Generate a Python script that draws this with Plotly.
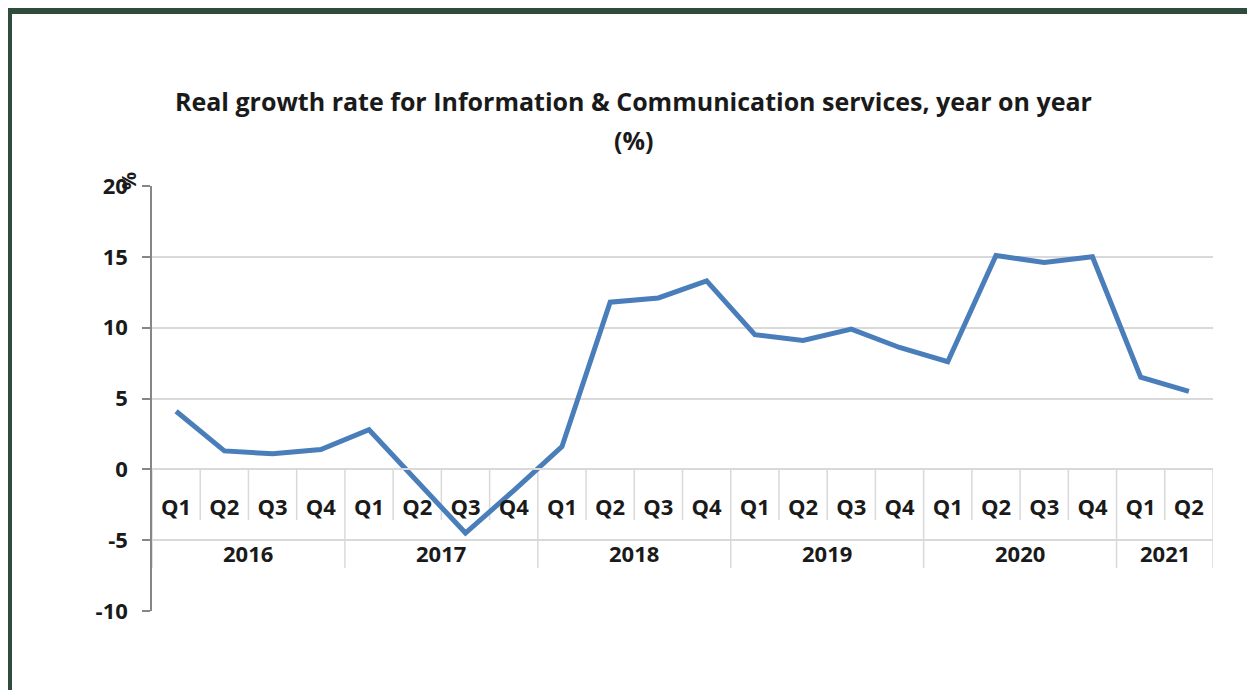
import plotly.graph_objects as go

years = ['2016'] * 4 + ['2017'] * 4 + ['2018'] * 4 + ['2019'] * 4 + ['2020'] * 4 + ['2021'] * 2
quarters = ['Q1', 'Q2', 'Q3', 'Q4'] * 5 + ['Q1', 'Q2']
growth = [4.1, 1.3, 1.1, 1.4,
          2.8, -0.9, -4.5, -1.5,
          1.6, 11.8, 12.1, 13.3,
          9.5, 9.1, 9.9, 8.6,
          7.6, 15.1, 14.6, 15.0,
          6.5, 5.5]
y_ticks = [-10, -5, 0, 5, 10, 15, 20]
y_ticktext = ['-10', '-5', '0', '5', '10', '15', '20']

cats = [y + ' ' + q for y, q in zip(years, quarters)]

# the page body has an 8px margin, so everything is laid out 8px up/left
OFF = 8
W, H = 1255 - OFF, 690 - OFF
L, R, T, B = 152 - OFF, 1255 - 1213, 186 - OFF, 690 - 611
PW, PH = W - L - R, H - T - B


def px(x, y):
    # screen pixel -> paper coords
    return (x - OFF - L) / PW, (H - B - (y - OFF)) / PH


GRID = '#D9D9D9'
TXT = '#1a1a1a'
font = dict(family='Open Sans', size=22, color=TXT, weight='bold')

fig = go.Figure()

fig.add_trace(go.Scatter(
    x=cats,
    y=growth,
    mode='lines',
    line=dict(color='#4A7EBB', width=5),
    showlegend=False,
))

fig.update_layout(
    width=W,
    height=H,
    margin=dict(l=L, r=R, t=T, b=B),
    plot_bgcolor='white',
    paper_bgcolor='white',
    xaxis=dict(
        type='category',
        range=[-0.5, len(cats) - 0.5],
        anchor='free',
        position=10 / 30,
        showline=True,
        linecolor=GRID,
        linewidth=1.5,
        showgrid=False,
        tickvals=cats,
        ticktext=quarters,
        ticks='',
        ticklabelstandoff=19,
        tickfont=font,
    ),
    yaxis=dict(
        range=[-10, 20],
        tickvals=y_ticks,
        ticktext=y_ticktext,
        showgrid=True,
        gridcolor=GRID,
        gridwidth=1.5,
        zeroline=False,
        showline=True,
        linecolor='#868686',
        linewidth=1.5,
        ticks='outside',
        ticklen=8,
        tickwidth=1.5,
        tickcolor='#868686',
        ticklabelstandoff=10,
        tickfont=font,
    ),
)

# category separators: short ones between quarters, long ones between years
_, q_bottom = px(0, 520)
_, y_bottom = px(0, 568)
for i in range(len(cats) + 1):
    new_year = i == 0 or i == len(cats) or years[i] != years[i - 1]
    fig.add_shape(type='line', xref='x', yref='paper',
                  x0=i - 0.5, x1=i - 0.5, y0=10 / 30, y1=y_bottom if new_year else q_bottom,
                  line=dict(color=GRID, width=1.5), layer='between')

# year labels under the quarter labels
_, yr_y = px(0, 553)
for yr in dict.fromkeys(years):
    idx = [i for i, v in enumerate(years) if v == yr]
    fig.add_annotation(text=yr, x=sum(idx) / len(idx), y=yr_y, xref='x', yref='paper',
                       xanchor='center', yanchor='middle', showarrow=False, font=font)

title_font = dict(family='Open Sans', size=25, color=TXT, weight='bold')
x0, y0 = px(633, 101)
fig.add_annotation(text='Real growth rate for Information & Communication services, year on year',
                   x=x0, y=y0, xref='paper', yref='paper', xanchor='center', yanchor='middle',
                   showarrow=False, font=title_font)
x0, y0 = px(633, 140)
fig.add_annotation(text='(%)', x=x0, y=y0, xref='paper', yref='paper', xanchor='center',
                   yanchor='middle', showarrow=False, font=title_font)
x0, y0 = px(128, 181)
fig.add_annotation(text='%', x=x0, y=y0, xref='paper', yref='paper', xanchor='center',
                   yanchor='middle', showarrow=False, textangle=-90,
                   font=dict(family='Open Sans', size=20, color=TXT, weight='bold'))

# frame around the picture
for (sx0, sy0, sx1, sy1, col) in [(0, 0, 1255, 14, '#2E4B3B'),
                                   (0, 0, 12, 690, '#2E4B3B'),
                                   (1250, 14, 1254, 690, '#7F9C93')]:
    ax0, ay0 = px(max(sx0, OFF - 1), max(sy0, OFF - 1))
    ax1, ay1 = px(sx1, sy1)
    fig.add_shape(type='rect', xref='paper', yref='paper', x0=ax0, y0=ay0, x1=ax1, y1=ay1,
                  fillcolor=col, line_width=0, layer='above')

fig.write_html('out.html')
